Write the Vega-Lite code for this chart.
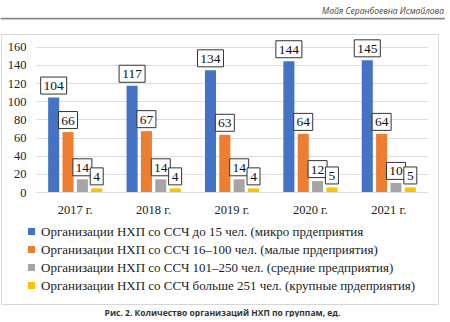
{
  "$schema": "https://vega.github.io/schema/vega-lite/v6.json",
  "padding": {"left": 0, "top": 5, "right": 0, "bottom": 0},
  "background": "white",
  "title": {
    "text": "Рис. 2. Количество организаций НХП по группам, ед.",
    "orient": "bottom",
    "anchor": "middle",
    "font": "Open Sans",
    "fontSize": 8.5,
    "fontWeight": "bold",
    "color": "#333333",
    "offset": 4
  },
  "spacing": 13,
  "vconcat": [
    {
      "width": 443,
      "height": 0.5,
      "title": {
        "text": "Майя Серанбоевна Исмайлова",
        "anchor": "end",
        "font": "Open Sans",
        "fontSize": 8.5,
        "fontStyle": "italic",
        "fontWeight": "normal",
        "color": "#444444",
        "offset": 3
      },
      "view": {"stroke": "#8a8a8a", "strokeWidth": 1.2},
      "data": {"values": []},
      "mark": "point",
      "encoding": {}
    },
    {
      "width": 437,
      "height": 270,
      "view": {"stroke": "#d6d6d6", "strokeWidth": 1},
      "data": {
        "values": [
          {"year": "2017 г.", "g": "Организации НХП со ССЧ до 15 чел. (микро прдеприятия", "v": 104},
          {"year": "2017 г.", "g": "Организации НХП со ССЧ 16–100 чел. (малые прдеприятия)", "v": 66},
          {"year": "2017 г.", "g": "Организации НХП со ССЧ 101–250 чел. (средние предприятия)", "v": 14},
          {"year": "2017 г.", "g": "Организации НХП со ССЧ больше 251 чел. (крупные прдеприятия)", "v": 4},
          {"year": "2018 г.", "g": "Организации НХП со ССЧ до 15 чел. (микро прдеприятия", "v": 117},
          {"year": "2018 г.", "g": "Организации НХП со ССЧ 16–100 чел. (малые прдеприятия)", "v": 67},
          {"year": "2018 г.", "g": "Организации НХП со ССЧ 101–250 чел. (средние предприятия)", "v": 14},
          {"year": "2018 г.", "g": "Организации НХП со ССЧ больше 251 чел. (крупные прдеприятия)", "v": 4},
          {"year": "2019 г.", "g": "Организации НХП со ССЧ до 15 чел. (микро прдеприятия", "v": 134},
          {"year": "2019 г.", "g": "Организации НХП со ССЧ 16–100 чел. (малые прдеприятия)", "v": 63},
          {"year": "2019 г.", "g": "Организации НХП со ССЧ 101–250 чел. (средние предприятия)", "v": 14},
          {"year": "2019 г.", "g": "Организации НХП со ССЧ больше 251 чел. (крупные прдеприятия)", "v": 4},
          {"year": "2020 г.", "g": "Организации НХП со ССЧ до 15 чел. (микро прдеприятия", "v": 144},
          {"year": "2020 г.", "g": "Организации НХП со ССЧ 16–100 чел. (малые прдеприятия)", "v": 64},
          {"year": "2020 г.", "g": "Организации НХП со ССЧ 101–250 чел. (средние предприятия)", "v": 12},
          {"year": "2020 г.", "g": "Организации НХП со ССЧ больше 251 чел. (крупные прдеприятия)", "v": 5},
          {"year": "2021 г.", "g": "Организации НХП со ССЧ до 15 чел. (микро прдеприятия", "v": 145},
          {"year": "2021 г.", "g": "Организации НХП со ССЧ 16–100 чел. (малые прдеприятия)", "v": 64},
          {"year": "2021 г.", "g": "Организации НХП со ССЧ 101–250 чел. (средние предприятия)", "v": 10},
          {"year": "2021 г.", "g": "Организации НХП со ССЧ больше 251 чел. (крупные прдеприятия)", "v": 5}
        ]
      },
      "transform": [{"calculate": "length(toString(datum.v))", "as": "digits"}],
      "encoding": {
        "x": {
          "field": "year",
          "type": "nominal",
          "title": null,
          "scale": {"range": [35, 427], "paddingInner": 0.31, "paddingOuter": 0.155},
          "axis": {
            "orient": "bottom",
            "offset": -102,
            "domain": false,
            "ticks": false,
            "labelAngle": 0,
            "labelPadding": 1,
            "labelFont": "Liberation Serif",
            "labelFontSize": 12.5,
            "labelColor": "#222222"
          }
        },
        "xOffset": {
          "field": "g",
          "type": "nominal",
          "sort": null,
          "scale": {"paddingInner": 0.23, "paddingOuter": 0}
        },
        "y": {
          "field": "v",
          "type": "quantitative",
          "title": null,
          "scale": {"domain": [0, 160], "range": [158, 12.7], "nice": false},
          "axis": {
            "orient": "left",
            "offset": -30,
            "values": [0, 20, 40, 60, 80, 100, 120, 140, 160],
            "domain": false,
            "ticks": false,
            "labelPadding": 5,
            "labelFont": "Liberation Serif",
            "labelFontSize": 12.5,
            "labelColor": "#222222",
            "gridColor": "#dedede",
            "gridWidth": 1
          }
        }
      },
      "layer": [
        {
          "mark": {"type": "bar"},
          "encoding": {
            "color": {
              "field": "g",
              "type": "nominal",
              "sort": null,
              "scale": {
                "domain": [
                  "Организации НХП со ССЧ до 15 чел. (микро прдеприятия",
                  "Организации НХП со ССЧ 16–100 чел. (малые прдеприятия)",
                  "Организации НХП со ССЧ 101–250 чел. (средние предприятия)",
                  "Организации НХП со ССЧ больше 251 чел. (крупные прдеприятия)"
                ],
                "range": ["#4472C4", "#ED7D31", "#A5A5A5", "#FFC000"]
              },
              "legend": {
                "orient": "none",
                "legendX": 24,
                "legendY": 207,
                "title": null,
                "padding": 0,
                "symbolType": "square",
                "symbolSize": 49,
                "symbolStrokeWidth": 0,
                "labelFont": "Liberation Serif",
                "labelFontSize": 13,
                "labelColor": "#222222",
                "labelOffset": 3,
                "labelLimit": 500,
                "rowPadding": 4
              }
            }
          }
        },
        {
          "mark": {"type": "point", "filled": true, "fill": "white", "stroke": "#333333", "strokeWidth": 1, "opacity": 1, "size": 900, "yOffset": -12},
          "encoding": {
            "shape": {
              "field": "digits",
              "type": "ordinal",
              "scale": {
                "domain": [1, 2, 3],
                "range": [
                  "M-0.433,-0.567H0.433V0.567H-0.433Z",
                  "M-0.633,-0.567H0.633V0.567H-0.633Z",
                  "M-0.867,-0.567H0.867V0.567H-0.867Z"
                ]
              },
              "legend": null
            }
          }
        },
        {
          "mark": {"type": "text", "font": "Liberation Serif", "fontSize": 13.5, "color": "#111111", "baseline": "middle", "yOffset": -11.5},
          "encoding": {"text": {"field": "v", "type": "quantitative"}}
        }
      ]
    }
  ]
}
